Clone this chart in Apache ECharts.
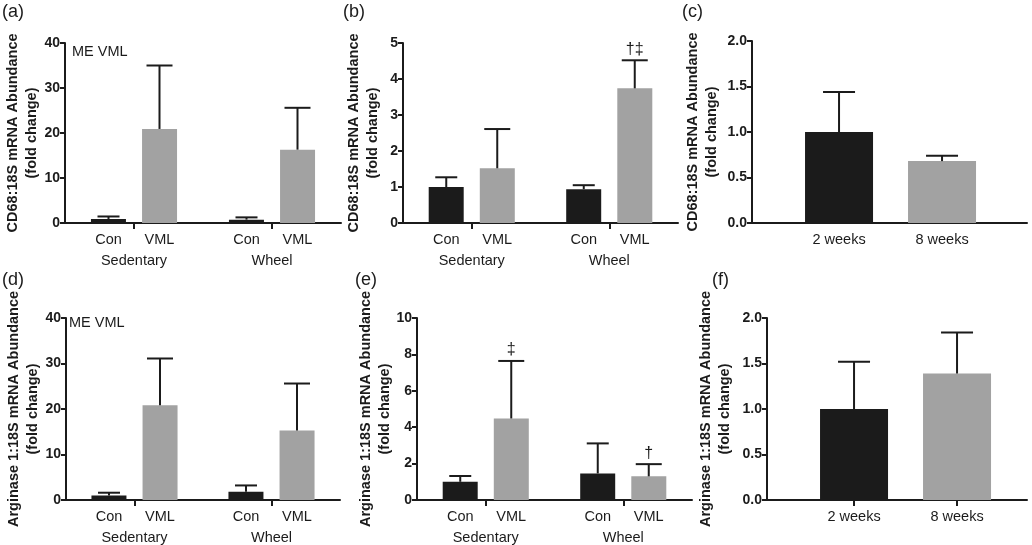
<!DOCTYPE html>
<html>
<head>
<meta charset="utf-8">
<script src="https://cdn.jsdelivr.net/npm/echarts@6/dist/echarts.min.js"></script>
<style>
  html, body { margin: 0; padding: 0; background: #fff; }
  #main { width: 1032px; height: 545px; }
</style>
</head>
<body>
<div id="main"></div>
<script>
const groups = ['Sedentary', 'Wheel']
const conditions = ['Con', 'VML']
const timepoints = ['2 weeks', '8 weeks']

// (a) CD68:18S, ME VML
const aConMean = [0.9, 0.75]
const aConErr = [0.55, 0.5]
const aVmlMean = [20.9, 16.3]
const aVmlErr = [14.1, 9.3]

// (b) CD68:18S
const bConMean = [1.0, 0.94]
const bConErr = [0.27, 0.11]
const bVmlMean = [1.52, 3.74]
const bVmlErr = [1.09, 0.78]
const bVmlMarks = ['', '†‡']

// (c) CD68:18S, time course
const cMean = [1.0, 0.68]
const cErr = [0.44, 0.06]

// (d) Arginase 1:18S, ME VML
const dConMean = [1.0, 1.8]
const dConErr = [0.6, 1.4]
const dVmlMean = [20.8, 15.3]
const dVmlErr = [10.3, 10.3]

// (e) Arginase 1:18S
const eConMean = [1.0, 1.46]
const eConErr = [0.32, 1.65]
const eVmlMean = [4.48, 1.30]
const eVmlErr = [3.16, 0.67]
const eVmlMarks = ['‡', '†']

// (f) Arginase 1:18S, time course
const fMean = [1.0, 1.39]
const fErr = [0.52, 0.45]

const yMax = [40, 5, 2, 40, 10, 2]
const yStep = [10, 1, 0.5, 10, 2, 0.5]

const BLACK = '#1b1b1b'
const GREY = '#a2a2a2'
const FONT = 'Liberation Sans, Arial, Helvetica, sans-serif'
const cd68Name = 'CD68:18S mRNA Abundance\n(fold change)'
const argName = 'Arginase 1:18S mRNA Abundance\n(fold change)'

const grids = [
  { left: 65, top: 43, width: 276, height: 180 },
  { left: 403, top: 43, width: 275, height: 180 },
  { left: 752, top: 41, width: 275, height: 182 },
  { left: 66, top: 318, width: 274, height: 182 },
  { left: 417, top: 318, width: 275, height: 182 },
  { left: 767, top: 318, width: 260, height: 182 }
]
const nameGaps = [24, 21, 31, 24, 23, 33]
const isTime = [false, false, true, false, false, true]

function yAxisFor(i) {
  return {
    type: 'value', gridIndex: i, min: 0, max: yMax[i], interval: yStep[i],
    name: i < 3 ? cd68Name : argName,
    nameLocation: 'middle', nameGap: nameGaps[i], nameMoveOverlap: false,
    nameTextStyle: { fontFamily: FONT, fontWeight: 'bold', fontSize: 14.5, color: BLACK, lineHeight: 18.5 },
    axisLine: { show: true, onZero: false, lineStyle: { color: BLACK, width: 2 } },
    axisTick: { show: true, length: 5, lineStyle: { color: BLACK, width: 2 } },
    axisLabel: {
      fontFamily: FONT, fontWeight: 'bold', fontSize: 14, color: BLACK, margin: 5,
      formatter: v => (yStep[i] < 1 ? v.toFixed(1) : String(v))
    },
    splitLine: { show: false }
  }
}

function xAxisFor(i) {
  const line = { show: true, lineStyle: { color: BLACK, width: 2 } }
  if (isTime[i]) {
    const lo = 0.155
    return {
      type: 'value', gridIndex: i, min: lo, max: lo + grids[i].width / 103,
      axisLine: line,
      axisTick: { show: i === 5, customValues: [1, 2], length: 6, lineStyle: { color: BLACK, width: 2 } },
      axisLabel: {
        customValues: [1, 2], fontFamily: FONT, fontSize: 14.5, color: BLACK, margin: 9,
        formatter: v => timepoints[Math.round(v) - 1] || ''
      },
      splitLine: { show: false }
    }
  }
  return {
    type: 'category', gridIndex: i, data: groups,
    axisLine: line,
    axisTick: { show: true, alignWithLabel: true, length: 6, lineStyle: { color: BLACK, width: 2 } },
    axisLabel: {
      interval: 0, margin: 6, color: BLACK, fontFamily: FONT, fontSize: 14.5,
      formatter: v => '{s|' + conditions[0] + '}{s|' + conditions[1] + '}\n{g|' + v + '}',
      rich: {
        s: { width: 51, align: 'center', fontFamily: FONT, fontSize: 14.5, color: BLACK, lineHeight: 21 },
        g: { width: 102, align: 'center', fontFamily: FONT, fontSize: 14.5, color: BLACK, lineHeight: 21 }
      }
    }
  }
}

function barSeries(i, name, means, color) {
  return {
    type: 'bar', name: name, xAxisIndex: i, yAxisIndex: i,
    data: means, barWidth: 35, barGap: '46%',
    itemStyle: { color: color }, z: 2
  }
}

function timeBars(i, means) {
  return {
    type: 'bar', xAxisIndex: i, yAxisIndex: i, barWidth: 68, z: 2,
    data: means.map((m, k) => ({ value: [k + 1, m], itemStyle: { color: k === 0 ? BLACK : GREY } }))
  }
}

function errSeries(i, xs, means, errs, offset, capW, marks) {
  return {
    type: 'custom', xAxisIndex: i, yAxisIndex: i, z: 3,
    data: means.map((m, k) => [xs[k], m, m + errs[k]]),
    renderItem: (params, api) => {
      const base = api.coord([api.value(0), api.value(1)])
      const top = api.coord([api.value(0), api.value(2)])
      const x = base[0] + offset
      const st = { stroke: BLACK, lineWidth: 2 }
      const kids = [
        { type: 'line', shape: { x1: x, y1: base[1], x2: x, y2: top[1] }, style: st },
        { type: 'line', shape: { x1: x - capW / 2, y1: top[1], x2: x + capW / 2, y2: top[1] }, style: st }
      ]
      const mark = marks ? marks[params.dataIndex] : ''
      if (mark) {
        kids.push({
          type: 'text', x: x, y: top[1] - 3,
          style: { text: mark, fill: BLACK, font: '16px ' + FONT, textAlign: 'center', textVerticalAlign: 'bottom' }
        })
      }
      return { type: 'group', children: kids }
    }
  }
}

const OFF = 25.5
const series = [
  barSeries(0, 'Con', aConMean, BLACK), barSeries(0, 'VML', aVmlMean, GREY),
  errSeries(0, [0, 1], aConMean, aConErr, -OFF, 22), errSeries(0, [0, 1], aVmlMean, aVmlErr, OFF, 26),
  barSeries(1, 'Con', bConMean, BLACK), barSeries(1, 'VML', bVmlMean, GREY),
  errSeries(1, [0, 1], bConMean, bConErr, -OFF, 22), errSeries(1, [0, 1], bVmlMean, bVmlErr, OFF, 26, bVmlMarks),
  timeBars(2, cMean), errSeries(2, [1, 2], cMean, cErr, 0, 32),
  barSeries(3, 'Con', dConMean, BLACK), barSeries(3, 'VML', dVmlMean, GREY),
  errSeries(3, [0, 1], dConMean, dConErr, -OFF, 22), errSeries(3, [0, 1], dVmlMean, dVmlErr, OFF, 26),
  barSeries(4, 'Con', eConMean, BLACK), barSeries(4, 'VML', eVmlMean, GREY),
  errSeries(4, [0, 1], eConMean, eConErr, -OFF, 22, null), errSeries(4, [0, 1], eVmlMean, eVmlErr, OFF, 26, eVmlMarks),
  timeBars(5, fMean), errSeries(5, [1, 2], fMean, fErr, 0, 32)
]

const panelLabels = [
  ['(a)', 2, 3], ['(b)', 343, 3], ['(c)', 682, 3],
  ['(d)', 2, 271], ['(e)', 355, 271], ['(f)', 712, 271]
]
const titles = panelLabels.map(p => ({
  text: p[0], left: p[1], top: p[2], padding: 0,
  textStyle: { fontFamily: FONT, fontWeight: 'normal', fontSize: 18, color: BLACK }
}))
titles.push(
  { text: 'ME VML', left: 72, top: 44, padding: 0, textStyle: { fontFamily: FONT, fontWeight: 'normal', fontSize: 14.5, color: BLACK } },
  { text: 'ME VML', left: 69, top: 315, padding: 0, textStyle: { fontFamily: FONT, fontWeight: 'normal', fontSize: 14.5, color: BLACK } }
)

const chart = echarts.init(document.getElementById('main'))
chart.setOption({
  animation: false,
  backgroundColor: '#fff',
  title: titles,
  grid: grids,
  xAxis: grids.map((g, i) => xAxisFor(i)),
  yAxis: grids.map((g, i) => yAxisFor(i)),
  series: series
})
</script>
</body>
</html>
